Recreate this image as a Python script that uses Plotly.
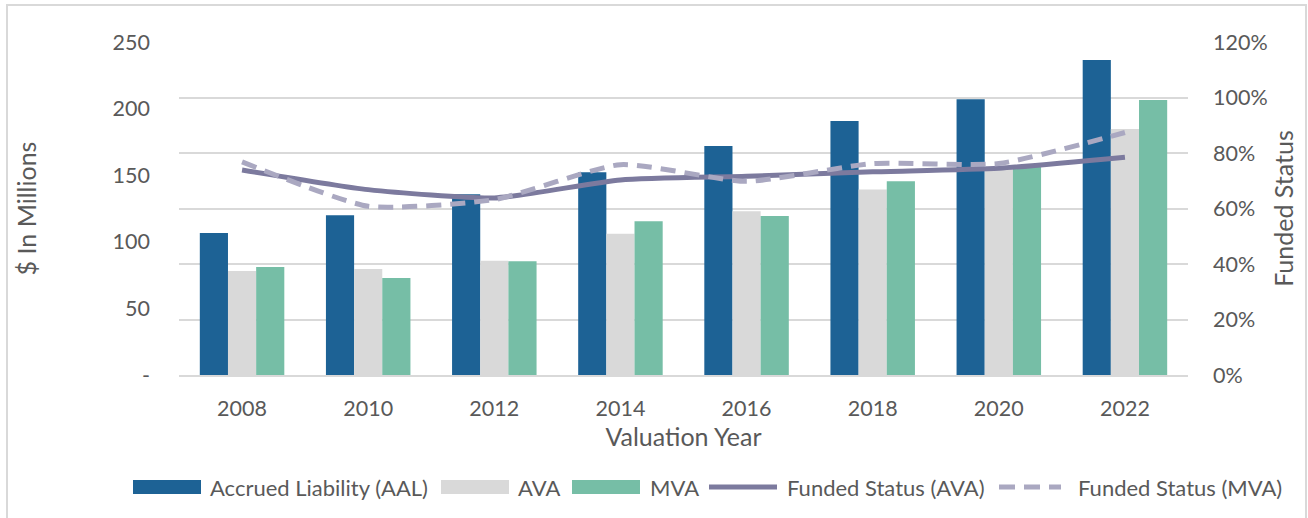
import plotly.graph_objects as go

years = ["2008", "2010", "2012", "2014", "2016", "2018", "2020", "2022"]
aal = [106.6, 120.0, 135.7, 152.2, 171.9, 190.6, 207.0, 236.5]
ava = [78.0, 79.6, 85.8, 106.0, 122.9, 139.2, 154.5, 184.7]
mva = [81.0, 72.8, 85.4, 115.4, 119.4, 145.5, 156.9, 206.5]
fs_ava = [0.739, 0.668, 0.638, 0.703, 0.716, 0.732, 0.745, 0.785]
fs_mva = [0.768, 0.608, 0.632, 0.758, 0.698, 0.762, 0.762, 0.874]

left_ticks = [0, 50, 100, 150, 200, 250]
left_ticktext = ["-", "50", "100", "150", "200", "250"]
right_ticks = [0, 0.2, 0.4, 0.6, 0.8, 1.0, 1.2]

names = ["Accrued Liability (AAL)", "AVA", "MVA", "Funded Status (AVA)", "Funded Status (MVA)"]
colors = ["#1D6295", "#D9D9D9", "#76BEA6", "#7C7A9E", "#AAA8C1"]

FONT = "Lato"
TXT = "#595959"
GRID = "#D9D9D9"

W, H = 1308, 518
L, R, T, B = 179, 120, 42, 143
PW, PH = W - L - R, H - T - B


def px(x):
    return (x - L) / PW


def py(y):
    return (H - B - y) / PH


fig = go.Figure()
for vals, nm, col in zip([aal, ava, mva], names[:3], colors[:3]):
    fig.add_trace(go.Bar(x=years, y=vals, name=nm, marker=dict(color=col, line=dict(width=0))))
fig.add_trace(go.Scatter(x=years, y=fs_ava, name=names[3], yaxis="y2", mode="lines",
                         line=dict(color=colors[3], width=5, shape="spline", smoothing=0.55)))
fig.add_trace(go.Scatter(x=years, y=fs_mva, name=names[4], yaxis="y2", mode="lines",
                         line=dict(color=colors[4], width=5, dash="15px,9px",
                                   shape="spline", smoothing=0.55)))

# custom legend (Excel-style wide swatches)
legend_layout = [  # (swatch x0, swatch x1, text x)
    (133, 201, 208), (441, 509, 516), (572, 640, 648), (707, 779, 785), (997, 1063, 1076)]
LY = 487
shapes = [dict(type="rect", xref="paper", yref="paper",
               x0=px(7), x1=px(1306), y0=py(530), y1=py(5),
               line=dict(color="#D9D9D9", width=2), fillcolor="rgba(0,0,0,0)", layer="below")]
annotations = []
for i, (x0, x1, tx) in enumerate(legend_layout):
    if i < 3:
        shapes.append(dict(type="rect", xref="paper", yref="paper", x0=px(x0), x1=px(x1),
                           y0=py(LY + 7), y1=py(LY - 7), fillcolor=colors[i], line=dict(width=0)))
    else:
        shapes.append(dict(type="line", xref="paper", yref="paper", x0=px(x0 + 2), x1=px(x1 - 2),
                           y0=py(LY), y1=py(LY),
                           line=dict(color=colors[i], width=5,
                                     dash="solid" if i == 3 else "16px,9px")))
    annotations.append(dict(text=names[i], xref="paper", yref="paper", x=px(tx), y=py(LY),
                            xanchor="left", yanchor="middle", showarrow=False,
                            font=dict(size=22, color=TXT, family=FONT)))

fig.update_layout(
    width=W, height=H,
    margin=dict(l=L, r=R, t=T, b=B, autoexpand=False),
    paper_bgcolor="white", plot_bgcolor="white",
    font=dict(family=FONT, color=TXT, size=21),
    barmode="group", bargap=0.33, bargroupgap=0,
    showlegend=False,
    xaxis=dict(type="category", showgrid=False, showline=True, linecolor=GRID, linewidth=1.5,
               ticks="", ticklabelstandoff=13, tickfont=dict(size=21.5, color=TXT), automargin=False,
               title=dict(text="Valuation Year", font=dict(size=25, color=TXT), standoff=4)),
    yaxis=dict(range=[0, 250], tickvals=left_ticks, ticktext=left_ticktext, showgrid=False,
               zeroline=False, showline=False, ticks="", ticklabelstandoff=28, automargin=False,
               tickfont=dict(size=21.5, color=TXT),
               title=dict(text="$ In Millions", font=dict(size=25, color=TXT), standoff=68)),
    yaxis2=dict(range=[0, 1.2], tickvals=right_ticks, tickformat=".0%", overlaying="y", side="right",
                showgrid=True, gridcolor=GRID, gridwidth=1.5, zeroline=False, showline=False,
                ticks="", ticklabelstandoff=24, automargin=False, tickfont=dict(size=21.5, color=TXT),
                title=dict(text="Funded Status", font=dict(size=25, color=TXT), standoff=8)),
    shapes=shapes,
    annotations=annotations,
)

fig.write_html("out.html", config={"displayModeBar": False},
               post_script="document.body.style.margin='0';document.body.style.overflow='hidden';")
